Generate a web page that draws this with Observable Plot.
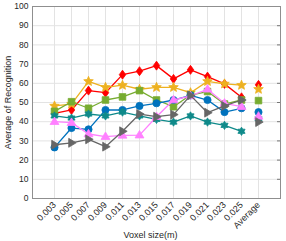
<!DOCTYPE html>
<html>
<head>
<meta charset="utf-8">
<script src="https://cdn.jsdelivr.net/npm/d3@7"></script>
<script src="https://cdn.jsdelivr.net/npm/@observablehq/plot@0.6"></script>
<style>
  html, body { margin: 0; padding: 0; background: #fff; }
  #chart svg { display: block; }
</style>
</head>
<body>
<div id="chart"></div>
<script>
// ---- data ----
const categories = ["0.003","0.005","0.007","0.009","0.011","0.013","0.015","0.017","0.019","0.021","0.023","0.025","Average"];
const yTicks = [0,10,20,30,40,50,60,70,80,90,100];

const redValues    = [44.3,46.1,56.2,55.1,64.5,66.3,69.2,62.3,67.0,63.5,59.7,52.7,59.2];
const orangeValues = [48.2,49.2,61.0,57.9,59.0,56.9,57.9,57.9,55.1,61.0,59.7,59.0,56.9];
const greenValues  = [45.4,50.4,47.0,51.3,52.9,56.2,51.3,47.8,53.9,55.7,49.2,51.3,51.0];
const blueValues   = [26.6,36.7,36.0,46.1,46.1,48.2,49.6,51.3,53.7,51.3,45.0,47.0,45.0];
const tealValues   = [43.0,41.9,44.0,43.0,45.0,43.0,41.2,39.8,43.0,39.8,38.1,35.0,41.5];
const pinkValues   = [40.0,39.5,33.6,32.2,32.9,33.0,42.6,51.3,53.4,56.9,49.6,47.8,42.8];
const grayValues   = [28.0,29.0,30.8,27.0,35.0,44.0,42.6,43.7,53.7,44.7,48.2,51.3,39.8];

// ---- custom marker shapes (size = r^2 * PI) ----
function R(size) { return Math.sqrt(size / Math.PI); }
const symDiamond = { draw(c, s) { const r = R(s), w = r * 0.9, h = r * 1.25;
  c.moveTo(0, -h); c.lineTo(w, 0); c.lineTo(0, h); c.lineTo(-w, 0); c.closePath(); } };
const symSquare = { draw(c, s) { const r = R(s) * 0.92; c.rect(-r, -r, 2 * r, 2 * r); } };
function starPath(c, n, ro, ri) {
  for (let i = 0; i < 2 * n; i++) {
    const a = -Math.PI / 2 + i * Math.PI / n, rr = i % 2 ? ri : ro;
    const x = rr * Math.cos(a), y = rr * Math.sin(a);
    i ? c.lineTo(x, y) : c.moveTo(x, y);
  }
  c.closePath();
}
const symStar = { draw(c, s) { const r = R(s) * 1.4; starPath(c, 5, r, r * 0.45); } };
const symHexagram = { draw(c, s) { const r = R(s) * 1.15; starPath(c, 6, r, r * 0.6); } };
const symTriUp = { draw(c, s) { const r = R(s) * 1.3;
  c.moveTo(0, -r); c.lineTo(r * 0.95, r * 0.6); c.lineTo(-r * 0.95, r * 0.6); c.closePath(); } };
const symTriRight = { draw(c, s) { const r = R(s) * 1.3;
  c.moveTo(r, 0); c.lineTo(-r * 0.6, r * 0.95); c.lineTo(-r * 0.6, -r * 0.95); c.closePath(); } };

const series = [
  { values: redValues,    color: "#ff0000", symbol: symDiamond },
  { values: orangeValues, color: "#edb120", symbol: symStar },
  { values: greenValues,  color: "#77ac30", symbol: symSquare },
  { values: blueValues,   color: "#0072bd", symbol: d3.symbolCircle },
  { values: tealValues,   color: "#0f8a8a", symbol: symHexagram },
  { values: pinkValues,   color: "#ff80ff", symbol: symTriUp },
  { values: grayValues,   color: "#666666", symbol: symTriRight }
];

const W = 286, H = 241, mL = 32, mR = 6, mT = 6, mB = 43;
const font = "Liberation Sans, Arial, Helvetica, sans-serif";

const marks = [
  Plot.gridY(yTicks, { stroke: "#e3e3e3", strokeOpacity: 1 }),
  Plot.gridX(categories, { stroke: "#e3e3e3", strokeOpacity: 1 }),
  Plot.tickY(yTicks, { y: d => d, stroke: "#777", insetLeft: W - mL - mR - 3 }),
  Plot.frame({ stroke: "#8f8f8f" }),
  Plot.axisY(yTicks, { tickSize: 0, tickPadding: 4, fontSize: 8.5, fill: "#262626", label: null }),
  Plot.axisX(categories, { tickSize: 0, tickPadding: 5, tickRotate: -45, fontSize: 9, fill: "#262626", label: null }),
  Plot.text(["Average of Recognition"], { frameAnchor: "left", dx: -24, rotate: -90, fontSize: 9, fill: "#262626", textAnchor: "middle", lineAnchor: "middle" }),
  Plot.text(["Voxel size(m)"], { frameAnchor: "bottom", dy: 37, dx: -6, fontSize: 9, fill: "#262626", textAnchor: "middle", lineAnchor: "middle" })
];

for (const s of series) {
  const pts = categories.map((c, i) => ({ x: c, y: s.values[i] }));
  const linePts = pts.slice(0, categories.length - 1);
  marks.push(Plot.line(linePts, { x: "x", y: "y", stroke: s.color, strokeWidth: 1.3 }));
  marks.push(Plot.dot(pts, { x: "x", y: "y", symbol: s.symbol, r: 3.6, fill: s.color, stroke: s.color, strokeWidth: 0.8 }));
}

const chart = Plot.plot({
  width: W, height: H,
  marginLeft: mL, marginRight: mR, marginTop: mT, marginBottom: mB,
  style: { fontFamily: font, background: "#fff" },
  x: { type: "point", domain: categories, padding: 1, axis: null },
  y: { domain: [0, 100], axis: null },
  marks
});
document.getElementById("chart").appendChild(chart);
</script>
</body>
</html>
